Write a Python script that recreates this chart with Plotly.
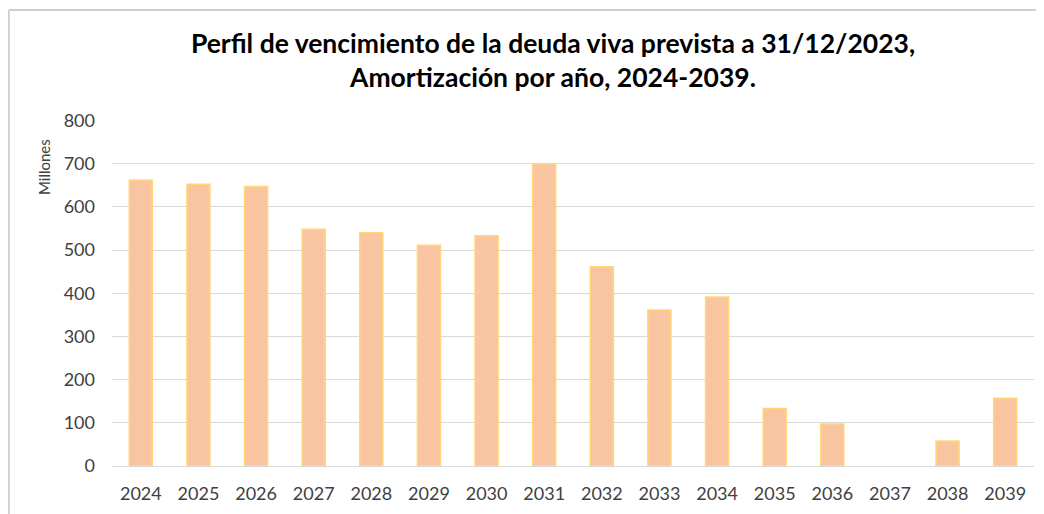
import plotly.graph_objects as go

years = ["2024", "2025", "2026", "2027", "2028", "2029", "2030", "2031",
         "2032", "2033", "2034", "2035", "2036", "2037", "2038", "2039"]
amortizacion = [662, 652, 647, 548, 540, 511, 533, 700,
                461, 361, 391, 133, 97, 0, 58, 157]
y_ticks = [0, 100, 200, 300, 400, 500, 600, 700, 800]

W, H = 1036, 506
L, R, T, B = 104, 10, 112, 48
PW, PH = W - L - R, H - T - B

fig = go.Figure(go.Bar(
    x=years, y=amortizacion,
    marker=dict(color="rgb(248,197,160)",
                line=dict(color="rgb(255,215,120)",
                          width=[1.5 if v > 0 else 0 for v in amortizacion])),
    width=0.4,
))

fig.update_layout(
    width=W, height=H,
    margin=dict(l=L, r=R, t=T, b=B),
    paper_bgcolor="white", plot_bgcolor="white",
    title=dict(
        text="<b>Perfil de vencimiento de la deuda viva prevista a 31/12/2023,<br>Amortización por año, 2024-2039.</b>",
        x=545 / W, xanchor="center", y=1 - 45 / H, yanchor="middle",
        font=dict(family="Lato", size=26.5, color="black"),
    ),
    showlegend=False,
)
fig.update_xaxes(
    type="category", showgrid=False, showline=False, ticks="",
    tickfont=dict(family="Lato", size=18, color="#404040"), ticklabelstandoff=15,
)
fig.update_yaxes(
    range=[0, 801], tickvals=y_ticks, showgrid=True, gridcolor="#D9D9D9", gridwidth=1.3,
    zeroline=True, zerolinecolor="#D9D9D9", zerolinewidth=1.3,
    tickfont=dict(family="Lato", size=18, color="#404040"), ticklabelstandoff=16,
)
fig.add_annotation(
    text="Millones", textangle=-90, xref="paper", yref="paper",
    x=(36 - L) / PW, y=(H - B - 159) / PH, xanchor="center", yanchor="middle",
    showarrow=False, font=dict(family="Lato", size=15, color="#404040"),
)
# outer frame (light gray) at top and left
ytop = 1 + (T - 2) / PH
xleft = (0.8 - L) / PW
fig.add_shape(type="line", xref="paper", yref="paper", x0=xleft, x1=1 + R / PW, y0=ytop, y1=ytop,
              line=dict(color="#CFCFCF", width=2))
fig.add_shape(type="line", xref="paper", yref="paper", x0=xleft, x1=xleft, y0=-B / PH, y1=ytop,
              line=dict(color="#CFCFCF", width=2))

fig.write_html("out.html")
